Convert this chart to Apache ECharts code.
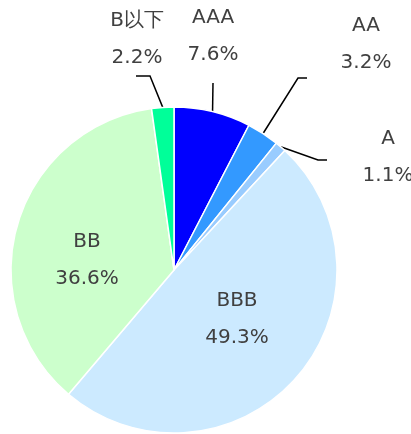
<!DOCTYPE html>
<html>
<head>
<meta charset="utf-8">
<script src="https://cdn.jsdelivr.net/npm/echarts@6/dist/echarts.min.js"></script>
<style>
  html, body { margin: 0; padding: 0; background: #fff; }
  #chart { width: 411px; height: 434px; }
</style>
</head>
<body>
<div id="chart"></div>
<script>
const ratings = ["AAA", "AA", "A", "BBB", "BB", "B以下"];
const shares = [7.6, 3.2, 1.1, 49.3, 36.6, 2.2];

const sliceColors = ["#0000ff", "#3399ff", "#99ccff", "#cceaff", "#ccffcc", "#00ff99"];
const insideLabel = [false, false, false, true, true, false];

// where each text block sits, and the leader line's bend/end points
const labelSpots = [
  { x: 213, y: 36, line: [[213, 83], [213, 83]] },
  { x: 366, y: 44, line: [[298, 78], [307, 78]] },
  { x: 388, y: 157, line: [[318, 160], [327, 160]] },
  { x: 237, y: 319, line: null },
  { x: 87, y: 260, line: null },
  { x: 137, y: 39, line: [[150, 76], [136, 76]] },
];

const chart = echarts.init(document.getElementById("chart"), null, { renderer: "canvas" });

chart.setOption({
  animation: false,
  series: [
    {
      type: "pie",
      center: [174, 270],
      radius: 163,
      startAngle: 90,
      clockwise: true,
      avoidLabelOverlap: false,
      itemStyle: { borderColor: "#fff", borderWidth: 1.5 },
      label: {
        show: true,
        position: "outside",
        formatter: "{b}\n{c}%",
        fontFamily: "Verdana, 'DejaVu Sans', sans-serif",
        fontSize: 20,
        lineHeight: 37,
        color: "#404040",
        align: "center",
      },
      labelLine: {
        show: true,
        length: 20,
        length2: 10,
        lineStyle: { color: "#000", width: 1.5 },
      },
      labelLayout: (params) => {
        const spot = labelSpots[params.dataIndex];
        const out = { x: spot.x, y: spot.y, align: "center", verticalAlign: "middle" };
        const pts = params.labelLinePoints;
        if (spot.line && pts && pts[0]) {
          out.labelLinePoints = [pts[0], spot.line[0], spot.line[1]];
        }
        return out;
      },
      data: ratings.map((name, i) => ({
        name,
        value: shares[i],
        itemStyle: { color: sliceColors[i] },
        label: insideLabel[i] ? { position: "inside" } : {},
        labelLine: { show: !insideLabel[i] },
      })),
    },
  ],
});
</script>
</body>
</html>
